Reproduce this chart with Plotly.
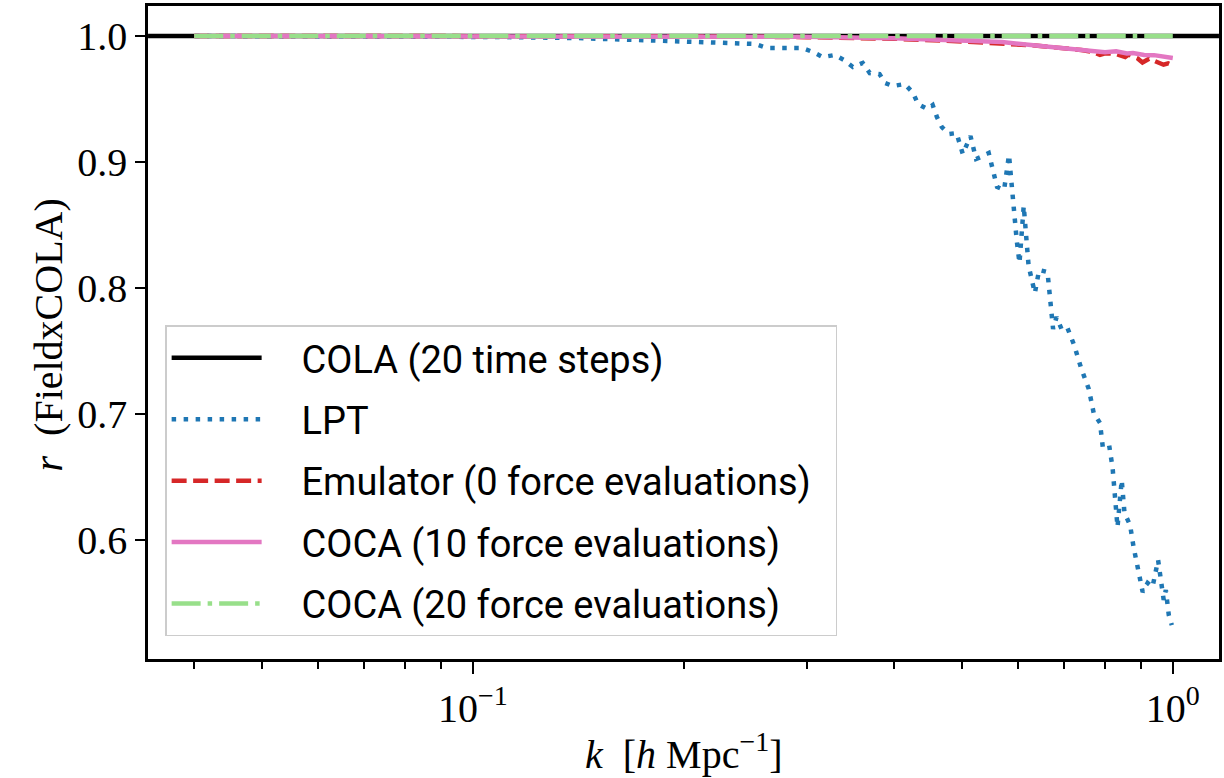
import plotly.graph_objects as go

# ---------------- data ----------------
k_axis_limits = [0.03436, 1.164]   # COLA reference line spans the whole axis
r_cola = [1.0, 1.0]

k_lpt = [0.0401, 0.0566, 0.0787, 0.1093, 0.1408, 0.1622, 0.1930, 0.2089, 0.2254, 0.2431,
         0.2529, 0.2630, 0.2729, 0.2837, 0.2951, 0.3061, 0.3162, 0.3289, 0.3388, 0.3491,
         0.3606, 0.3690, 0.3811, 0.3881, 0.3981, 0.4140, 0.4256, 0.4325, 0.4457, 0.4539,
         0.4603, 0.4677, 0.4786, 0.4909, 0.5012, 0.5140, 0.5236, 0.5358, 0.5458, 0.5610,
         0.5741, 0.5834, 0.5902, 0.5984, 0.6039, 0.6124, 0.6223, 0.6353, 0.6442, 0.6622,
         0.6745, 0.6823, 0.6934, 0.7063, 0.7228, 0.7396, 0.7586, 0.7709, 0.7870, 0.7943,
         0.8110, 0.8204, 0.8337, 0.8453, 0.8531, 0.8689, 0.8790, 0.8974, 0.9057, 0.9204,
         0.9354, 0.9528, 0.9613, 0.9705, 0.9773, 0.9869, 0.9967]
r_lpt = [1.0000, 1.0000, 0.9996, 0.9992, 0.9984, 0.9972, 0.9960, 0.9952, 0.9952, 0.9944,
         0.9937, 0.9905, 0.9905, 0.9913, 0.9905, 0.9873, 0.9833, 0.9849, 0.9810, 0.9754,
         0.9786, 0.9706, 0.9698, 0.9627, 0.9603, 0.9619, 0.9548, 0.9460, 0.9421, 0.9452,
         0.9357, 0.9278, 0.9222, 0.9230, 0.9063, 0.9206, 0.9024, 0.9048, 0.9071, 0.8802,
         0.8778, 0.9056, 0.8706, 0.8381, 0.8198, 0.8651, 0.8175, 0.7960, 0.8143, 0.8127,
         0.7675, 0.7770, 0.7675, 0.7690, 0.7548, 0.7365, 0.7198, 0.7008, 0.6929, 0.6738,
         0.6754, 0.6571, 0.6103, 0.6476, 0.6214, 0.6119, 0.5944, 0.5706, 0.5587, 0.5659,
         0.5627, 0.5841, 0.5698, 0.5524, 0.5603, 0.5405, 0.5325]

k_emu = [0.04, 0.1, 0.2, 0.3, 0.4, 0.5, 0.58, 0.63, 0.67, 0.70, 0.74, 0.77, 0.787, 0.80,
         0.83, 0.855, 0.865, 0.89, 0.905, 0.925, 0.95, 0.97, 0.985, 1.0]
r_emu = [1.0, 1.0, 0.9998, 0.9991, 0.9978, 0.9957, 0.9940, 0.9926, 0.9912, 0.9903, 0.9888,
         0.9873, 0.9850, 0.9863, 0.9858, 0.9833, 0.9853, 0.9823, 0.9790, 0.9820, 0.9798,
         0.9772, 0.9783, 0.9768]

k_coca10 = [0.04, 0.1, 0.2, 0.3, 0.4, 0.5, 0.57, 0.67, 0.74, 0.787, 0.80, 0.83, 0.86,
            0.877, 0.91, 0.94, 0.97, 1.0]
r_coca10 = [1.0, 1.0, 0.9998, 0.9993, 0.9982, 0.9965, 0.9952, 0.9913, 0.9895, 0.9880,
            0.9872, 0.9878, 0.9862, 0.9865, 0.9850, 0.9848, 0.9835, 0.9825]

k_coca20 = [0.04, 0.1, 0.3, 0.6, 1.0]
r_coca20 = [1.0, 1.0, 1.0, 1.0, 1.0]

x_major = [0.1, 1.0]
x_major_text = ["10<sup>\u22121</sup>", "10<sup>0</sup>"]
x_minor = [0.04, 0.05, 0.06, 0.07, 0.08, 0.09, 0.2, 0.3, 0.4, 0.5, 0.6, 0.7, 0.8, 0.9]
y_ticks = [0.6, 0.7, 0.8, 0.9, 1.0]
y_range = [0.5056, 1.0238]
x_range_log = [-1.464, 0.066]

# ---------------- figure ----------------
LW = 4.5
serif = "Liberation Serif, DejaVu Serif, serif"
sans = "Roboto, DejaVu Sans, sans-serif"
PAD = "\u2002\u2009\u2009"   # visual gap between legend line sample and label
TAIL = "\u2002"              # extra right padding inside the legend box

series = [
    (k_axis_limits, r_cola, "COLA (20 time steps)", dict(color="black", width=LW)),
    (k_lpt, r_lpt, "LPT", dict(color="#1f77b4", width=LW, dash="4.5px,7.5px")),
    (k_emu, r_emu, "Emulator (0 force evaluations)",
     dict(color="#d62728", width=LW, dash="15px,6.5px")),
    (k_coca10, r_coca10, "COCA (10 force evaluations)", dict(color="#e377c2", width=LW)),
    (k_coca20, r_coca20, "COCA (20 force evaluations)",
     dict(color="#98df8a", width=LW, dash="29px,7px,4.5px,7px")),
]

fig = go.Figure()
for i, (xs, ys, name, line) in enumerate(series):
    fig.add_trace(go.Scatter(x=xs, y=ys, mode="lines", name=PAD + name + TAIL,
                             legendgroup=f"g{i}", line=line))

fig.update_layout(
    width=1224, height=778, autosize=False,
    margin=dict(l=148, r=5, t=6, b=119),
    paper_bgcolor="white", plot_bgcolor="white",
    showlegend=True,
    legend=dict(x=0.016, y=0.035, xanchor="left", yanchor="bottom",
                bgcolor="rgba(255,255,255,0.85)", bordercolor="#cccccc",
                borderwidth=1.5, font=dict(family=sans, size=38, color="black"),
                itemwidth=90, tracegroupgap=9),
    annotations=[
        dict(text="<i>k</i>  [<i>h</i> Mpc<sup>\u22121</sup>]", xref="paper", yref="paper",
             x=0.5, y=-0.142, xanchor="center", yanchor="middle", showarrow=False,
             font=dict(family=serif, size=40, color="black")),
        dict(text="<i>r</i>  (FieldxCOLA)", xref="paper", yref="paper",
             x=-0.093, y=0.496, xanchor="center", yanchor="middle", textangle=-90,
             showarrow=False, font=dict(family=serif, size=40, color="black")),
    ],
)
fig.update_xaxes(
    type="log", range=x_range_log, automargin=False,
    tickmode="array", tickvals=x_major, ticktext=x_major_text,
    ticks="outside", ticklen=12, tickwidth=2, tickcolor="black",
    minor=dict(tickmode="array", tickvals=x_minor, ticks="outside",
               ticklen=7, tickwidth=1.5, tickcolor="black", showgrid=False),
    showline=True, linecolor="black", linewidth=2.5, mirror=True,
    showgrid=False, zeroline=False,
    tickfont=dict(family=serif, size=40, color="black"),
)
fig.update_yaxes(
    range=y_range, automargin=False, tickmode="array", tickvals=y_ticks,
    ticktext=[f"{v:.1f}" for v in y_ticks],
    ticks="outside", ticklen=10, tickwidth=2, tickcolor="black",
    showline=True, linecolor="black", linewidth=2.5, mirror=True,
    showgrid=False, zeroline=False,
    tickfont=dict(family=serif, size=40, color="black"),
)

fig.write_html(
    "out.html",
    config={"displayModeBar": False},
    post_script="document.body.style.margin='0';"
                "document.documentElement.style.overflow='hidden';",
)
